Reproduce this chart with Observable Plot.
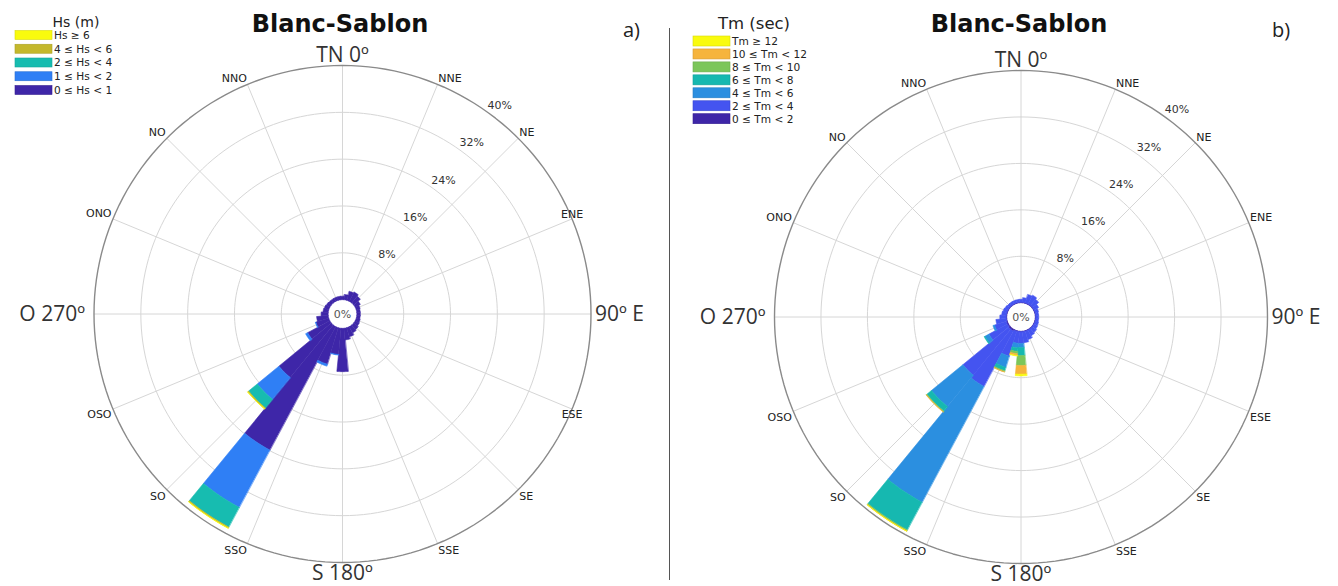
<!DOCTYPE html>
<html>
<head>
<meta charset="utf-8">
<script src="https://cdn.jsdelivr.net/npm/d3@7"></script>
<script src="https://cdn.jsdelivr.net/npm/@observablehq/plot@0.6"></script>
<style>
  html,body{margin:0;padding:0;background:#fff;}
  #root{position:relative;width:1338px;height:586px;overflow:hidden;}
  .panel{position:absolute;top:0;}
  #overlay{position:absolute;left:0;top:0;pointer-events:none;}
</style>
</head>
<body>
<div id="root"></div>
<script>
// ---------- data ----------
const directionDeg = [0,11.25,22.5,33.75,45,56.25,67.5,78.75,90,101.25,112.5,123.75,135,146.25,157.5,168.75,
                      180,191.25,202.5,213.75,225,236.25,247.5,258.75,270,281.25,292.5,303.75,315,326.25,337.5,348.75];
const binWidth = 11.25;
const ringLevels = [8,16,24,32,40];
const ringLabels = ["8%","16%","24%","32%","40%"];
const compassDeg = [0,22.5,45,67.5,90,112.5,135,157.5,180,202.5,225,247.5,270,292.5,315,337.5];
const compassLabels = ["TN 0º","NNE","NE","ENE","90º E","ESE","SE","SSE","S 180º","SSO","SO","OSO","O 270º","ONO","NO","NNO"];

const hsClasses = ["0 ≤ Hs < 1","1 ≤ Hs < 2","2 ≤ Hs < 4","4 ≤ Hs < 6","Hs ≥ 6"];
const hsColors  = ["#3e26a8","#2f7ff5","#17bcb0","#c4b82c","#f9fb0e"];
const hs_0_1 = [0.6,0.9,1.6,1.8,1.5,1.0,0.7,0.6, 0.6,0.6,0.7,0.8,1.0,1.2,1.6,2.0, 7.4,4.5,6.5,23.9,11.6,4.3,2.3,2.0, 1.2,0.9,0.8,0.7,0.6,0.6,0.6,0.6];
const hs_1_2 = [0,0,0,0,0,0,0,0, 0,0,0,0,0,0,0,0, 0,0.1,0.35,11.1,4.8,0.4,0.1,0, 0,0,0,0,0,0,0,0];
const hs_2_4 = [0,0,0,0,0,0,0,0, 0,0,0,0,0,0,0,0, 0,0,0,3.8,1.9,0,0,0, 0,0,0,0,0,0,0,0];
const hs_4_6 = [0,0,0,0,0,0,0,0, 0,0,0,0,0,0,0,0, 0,0,0,0.2,0.2,0,0,0, 0,0,0,0,0,0,0,0];
const hs_6p  = [0,0,0,0,0,0,0,0, 0,0,0,0,0,0,0,0, 0,0,0,0.05,0.03,0,0,0, 0,0,0,0,0,0,0,0];

const tmClasses = ["0 ≤ Tm < 2","2 ≤ Tm < 4","4 ≤ Tm < 6","6 ≤ Tm < 8","8 ≤ Tm < 10","10 ≤ Tm < 12","Tm ≥ 12"];
const tmColors  = ["#3e26a8","#4454f0","#2b8fe0","#16b8b0","#7cc65a","#f6b43c","#f9fb0e"];
const tm_0_2   = [0.1,0.1,0.1,0.1,0.1,0.1,0.1,0.1, 0.1,0.1,0.1,0.1,0.1,0.1,0.1,0.1, 0.1,0.1,0.1,0.3,0.3,0.2,0.2,0.1, 0.1,0.1,0.1,0.1,0.1,0.1,0.1,0.1];
const tm_2_4   = [0.5,0.8,1.5,1.7,1.4,0.9,0.6,0.5, 0.5,0.5,0.6,0.7,0.9,1.1,1.5,1.9, 2.0,2.0,4.5,10.8,10.2,3.6,2.1,1.8, 1.1,0.8,0.7,0.6,0.5,0.5,0.5,0.5];
const tm_4_6   = [0,0,0,0,0,0,0,0, 0,0,0,0,0,0,0,0, 0.7,0.8,2.0,22.6,7.0,0.8,0.3,0, 0,0,0,0,0,0,0,0];
const tm_6_8   = [0,0,0,0,0,0,0,0, 0,0,0,0,0,0,0,0, 1.4,0.6,0.6,5.4,1.0,0.15,0,0, 0,0,0,0,0,0,0,0];
const tm_8_10  = [0,0,0,0,0,0,0,0, 0,0,0,0,0,0,0,0, 1.7,0.4,0.2,0.2,0.15,0,0,0, 0,0,0,0,0,0,0,0];
const tm_10_12 = [0,0,0,0,0,0,0,0, 0,0,0,0,0,0,0,0, 1.5,0.3,0.05,0.05,0.05,0,0,0, 0,0,0,0,0,0,0,0];
const tm_12p   = [0,0,0,0,0,0,0,0, 0,0,0,0,0,0,0,0, 0.3,0.1,0,0.02,0,0,0,0, 0,0,0,0,0,0,0,0];

// ---------- drawing ----------
const HOLE = 2.45;          // radius of the empty centre, in % units
const MAXP = 40;            // outer ring
const rad = d => d * Math.PI / 180;
const polar = (deg, rho) => [rho * Math.sin(rad(deg)), rho * Math.cos(rad(deg))];

function rose({W, H, cx, cy, R, colors, values, eastInside}) {
  const outer = HOLE + MAXP;
  const s = R / outer;
  const marks = [];
  const ringPts = [];
  ringLevels.forEach(p => { for (let a = 0; a <= 360; a += 2) { const [x, y] = polar(a, HOLE + p); ringPts.push({ring: p, x, y}); } });
  marks.push(Plot.line(ringPts.filter(d => d.ring < MAXP), {x: "x", y: "y", z: "ring", stroke: "#d6d6d6", strokeWidth: 1}));
  const spokes = compassDeg.map(a => { const [x1, y1] = polar(a, HOLE); const [x2, y2] = polar(a, outer); return {x1, y1, x2, y2}; });
  marks.push(Plot.link(spokes, {x1: "x1", y1: "y1", x2: "x2", y2: "y2", stroke: "#d6d6d6", strokeWidth: 1}));
  values.forEach((arr, ci) => {
    const pts = [];
    directionDeg.forEach((deg, k) => {
      let p0 = 0; for (let j = 0; j < ci; j++) p0 += values[j][k];
      const v = arr[k]; if (!(v > 0)) return;
      const p1 = p0 + v, a0 = deg - binWidth / 2, a1 = deg + binWidth / 2, n = 8;
      for (let i = 0; i <= n; i++) { const [x, y] = polar(a0 + (a1 - a0) * i / n, HOLE + p1); pts.push({id: k, x, y}); }
      for (let i = n; i >= 0; i--) { const [x, y] = polar(a0 + (a1 - a0) * i / n, HOLE + p0); pts.push({id: k, x, y}); }
    });
    marks.push(Plot.line(pts, {x: "x", y: "y", z: "id", fill: colors[ci], stroke: colors[ci], strokeWidth: 0.6, curve: "linear-closed"}));
  });
  marks.push(Plot.line(ringPts.filter(d => d.ring === MAXP), {x: "x", y: "y", stroke: "#8a8a8a", strokeWidth: 1.4}));
  const rl = ringLevels.map((p, i) => { const [x, y] = polar(37, HOLE + p + 2.2); return {x, y, t: ringLabels[i]}; });
  marks.push(Plot.text(rl, {x: "x", y: "y", text: "t", fontSize: 11, fill: "#333", fontFamily: "DejaVu Sans"}));
  marks.push(Plot.text([{x: 0, y: 0, t: "0%"}], {x: "x", y: "y", text: "t", fontSize: 11, fill: "#555", fontFamily: "DejaVu Sans"}));
  // minor compass labels: anchored just outside the ring, aligned away from the centre
  const minor = compassDeg.map((a, i) => ({a, t: compassLabels[i]})).filter(d => d.a % 90 !== 0).map(d => {
    const top = d.a < 90 || d.a > 270;
    const inside = eastInside && (d.a === 67.5 || d.a === 112.5);
    const [x, y] = polar(d.a, outer + (inside ? 0 : 1.5 / s));
    return {...d, x, y, anchor: inside ? "middle" : d.a < 180 ? "start" : "end", frame: top ? "bottom" : "top"};
  });
  for (const an of ["start", "middle", "end"]) for (const fr of ["bottom", "top"]) {
    marks.push(Plot.text(minor.filter(d => d.anchor === an && d.frame === fr),
      {x: "x", y: "y", text: "t", fontSize: 11, fill: "#222", fontFamily: "DejaVu Sans", textAnchor: an,
       lineAnchor: fr, dy: fr === "bottom" ? -1 : 1}));
  }
  const big = compassDeg.map((a, i) => ({a, t: compassLabels[i]})).filter(d => d.a % 90 === 0).map(d => {
    const extra = d.a === 0 ? 10 : d.a === 180 ? 11 : d.a === 90 ? 4 : 9;
    const [x, y] = polar(d.a, outer + extra / s);
    return {...d, x, y, anchor: d.a === 90 ? "start" : d.a === 270 ? "end" : "middle"};
  });
  ["start", "middle", "end"].forEach(an => marks.push(Plot.text(big.filter(d => d.anchor === an),
    {x: "x", y: "y", text: "t", fontSize: 21, fill: "#333", fontFamily: "Open Sans", textAnchor: an})));
  return Plot.plot({
    width: W, height: H, margin: 0,
    x: {domain: [-cx / s, (W - cx) / s], axis: null},
    y: {domain: [-(H - cy) / s, cy / s], axis: null},
    style: {background: "transparent", overflow: "visible"},
    marks
  });
}

const root = document.getElementById("root");
const left = rose({W: 669, H: 586, cx: 342, cy: 313.5, R: 248.5, colors: hsColors, values: [hs_0_1, hs_1_2, hs_2_4, hs_4_6, hs_6p], eastInside: true});
left.classList.add("panel"); left.style.left = "0px"; root.appendChild(left);
const right = rose({W: 669, H: 586, cx: 351.5, cy: 316.5, R: 246.5, colors: tmColors, values: [tm_0_2, tm_2_4, tm_4_6, tm_6_8, tm_8_10, tm_10_12, tm_12p], eastInside: false});
right.classList.add("panel"); right.style.left = "669px"; root.appendChild(right);

const ov = d3.select(root).append("svg").attr("id", "overlay").attr("width", 1338).attr("height", 586);
ov.append("line").attr("x1", 669.5).attr("x2", 669.5).attr("y1", 28).attr("y2", 580).attr("stroke", "#555").attr("stroke-width", 1);
[[340, "Blanc-Sablon"], [1019, "Blanc-Sablon"]].forEach(([x, t]) =>
  ov.append("text").attr("x", x).attr("y", 32).attr("text-anchor", "middle").attr("font-family", "DejaVu Sans")
    .attr("font-weight", "bold").attr("font-size", 24).attr("fill", "#111").text(t));
[[623, "a)"], [1272, "b)"]].forEach(([x, t]) =>
  ov.append("text").attr("x", x).attr("y", 37).attr("font-family", "Open Sans").attr("font-size", 20).attr("fill", "#222").text(t));

function legend({x0, y0, title, titleSize, titleY, classes, colors, step, swH, font}) {
  const g = ov.append("g");
  g.append("text").attr("x", x0 + 61).attr("y", titleY).attr("text-anchor", "middle").attr("font-family", "DejaVu Sans")
    .attr("font-size", titleSize).attr("fill", "#222").text(title);
  const order = classes.map((c, i) => i).reverse();
  order.forEach((ci, r) => {
    const y = y0 + r * step;
    g.append("rect").attr("x", x0).attr("y", y - swH / 2).attr("width", 37).attr("height", swH)
      .attr("fill", colors[ci]).attr("stroke", d3.color(colors[ci]).darker(0.4)).attr("stroke-width", 0.6);
    g.append("text").attr("x", x0 + 39).attr("y", y + font * 0.36).attr("font-family", "DejaVu Sans")
      .attr("font-size", font).attr("fill", "#222").text(classes[ci]);
  });
}
legend({x0: 15, y0: 35, title: "Hs (m)", titleSize: 14, titleY: 27, classes: hsClasses, colors: hsColors, step: 13.75, swH: 9, font: 10.6});
legend({x0: 693, y0: 41, title: "Tm (sec)", titleSize: 16.5, titleY: 29, classes: tmClasses, colors: tmColors, step: 12.95, swH: 10, font: 10.6});
</script>
</body>
</html>
